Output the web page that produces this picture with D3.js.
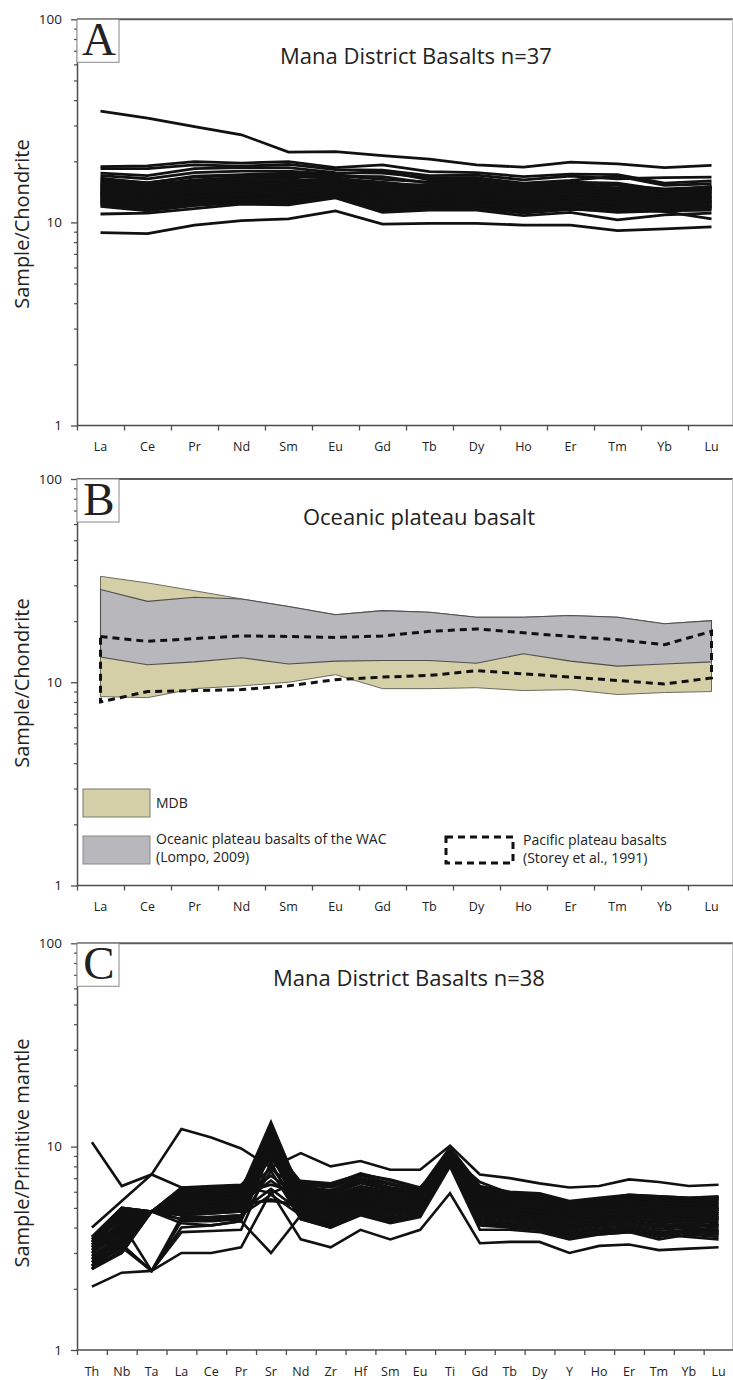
<!DOCTYPE html>
<html>
<head>
<meta charset="utf-8">
<script src="https://cdn.jsdelivr.net/npm/d3@7"></script>
<style>
  html, body { margin: 0; padding: 0; background: #fff; }
  svg { display: block; }
  text { font-family: "Open Sans", "Noto Sans", sans-serif; fill: #222; }
</style>
</head>
<body>
<svg id="chart" width="733" height="1380"></svg>
<script>
// ---- categories ----
const reeElements = ["La","Ce","Pr","Nd","Sm","Eu","Gd","Tb","Dy","Ho","Er","Tm","Yb","Lu"];
const spiderElements = ["Th","Nb","Ta","La","Ce","Pr","Sr","Nd","Zr","Hf","Sm","Eu","Ti","Gd","Tb","Dy","Y","Ho","Er","Tm","Yb","Lu"];

// ---- axis ticks ----
const yMajorTicks = [1, 10, 100];
const yMinorTicks = [2,3,4,5,6,7,8,9,20,30,40,50,60,70,80,90];

// ---- A: chondrite-normalised REE, Mana District basalts (n=37) ----
const manaREE = [
  [35.3,32.6,29.6,27.0,22.2,22.3,21.3,20.5,19.2,18.7,19.8,19.4,18.6,19.1],
  [8.9,8.8,9.7,10.2,10.4,11.4,9.8,9.9,9.9,9.7,9.7,9.1,9.3,9.5],
  [11.0,11.1,11.7,12.3,12.2,13.2,11.2,11.5,11.5,10.8,11.2,10.3,10.9,11.1],
  [18.8,19.0,19.9,19.6,19.9,18.6,19.2,17.8,17.6,16.8,17.3,17.2,15.6,16.0],
  [18.4,18.4,19.2,18.9,19.3,18.2,18.1,17.0,17.1,16.2,16.9,16.4,16.6,16.7],
  [17.5,17.0,18.4,18.6,18.6,17.6,17.5,16.6,16.6,15.6,16.1,16.9,15.2,15.5],
  [16.5,15.6,16.9,17.2,17.5,17.0,16.3,15.8,15.8,15.0,15.6,15.2,14.6,14.9],
  [16.0,15.3,16.2,16.6,16.8,16.6,15.4,15.3,15.3,14.5,15.1,14.7,14.2,14.7],
  [15.5,14.8,15.8,16.0,16.1,16.3,15.0,14.8,14.9,14.1,14.7,14.3,14.0,14.4],
  [15.2,14.4,15.4,15.7,15.9,16.0,14.6,14.5,14.6,13.9,14.4,14.0,13.7,14.1],
  [14.9,14.1,15.0,15.4,15.6,15.8,14.2,14.2,14.3,13.6,14.1,13.8,13.4,13.8],
  [14.6,13.9,14.7,15.1,15.3,15.5,13.9,14.0,14.0,13.3,13.9,13.5,13.2,13.6],
  [14.4,13.6,14.5,14.9,15.0,15.3,13.6,13.7,13.8,13.1,13.6,13.3,13.0,13.4],
  [14.1,13.4,14.2,14.6,14.8,15.0,13.4,13.5,13.5,12.9,13.4,13.0,12.8,13.2],
  [13.9,13.1,14.0,14.4,14.5,14.8,13.1,13.2,13.3,12.7,13.1,12.8,12.6,12.9],
  [13.6,12.9,13.7,14.1,14.3,14.6,12.9,13.0,13.1,12.5,12.9,12.6,12.4,12.7],
  [13.4,12.7,13.5,13.9,14.0,14.4,12.7,12.8,12.8,12.3,12.7,12.3,12.2,12.5],
  [13.2,12.5,13.2,13.6,13.8,14.2,12.5,12.6,12.6,12.1,12.5,12.1,12.0,12.3],
  [12.9,12.3,13.0,13.4,13.5,14.0,12.3,12.4,12.4,11.9,12.3,11.9,11.8,12.1],
  [12.7,12.0,12.7,13.1,13.2,13.8,12.0,12.2,12.2,11.7,12.1,11.7,11.6,11.9],
  [12.4,11.8,12.5,12.9,12.9,13.6,11.8,12.0,12.0,11.5,11.9,11.5,11.5,11.7],
  [12.2,11.5,12.3,12.7,12.6,13.5,11.6,11.8,11.8,11.3,11.7,11.2,11.4,11.5],
  [15.8,15.1,16.0,16.4,16.5,15.4,14.0,13.6,13.8,13.0,13.5,12.9,12.7,13.1],
  [17.0,16.4,17.6,17.9,17.9,17.3,17.9,16.2,16.2,15.3,15.8,15.6,14.4,15.0],
  [12.0,11.4,12.1,12.5,12.4,13.4,11.4,11.8,11.9,11.1,11.6,11.6,11.3,10.4],
  [13.0,12.4,13.3,13.7,13.9,14.8,13.6,13.4,13.4,12.8,13.3,13.2,12.9,13.4],
  [14.0,13.3,14.4,14.8,14.9,16.2,15.4,14.6,14.7,14.0,14.6,14.4,13.6,14.2],
  [16.3,15.7,16.7,17.0,17.1,16.9,16.8,15.6,15.5,14.8,15.3,14.8,14.4,14.7],
  [15.0,14.2,15.2,15.5,15.7,15.1,13.2,13.1,13.0,12.4,12.8,12.4,12.3,12.6],
  [13.7,13.0,13.9,14.3,14.4,15.0,12.2,12.3,12.3,11.8,12.2,11.9,12.1,12.3],
  [12.6,12.1,12.8,13.2,13.3,14.2,11.3,11.7,11.7,11.2,11.6,11.4,11.6,11.9],
  [14.8,14.0,14.9,15.3,15.5,15.9,14.4,14.1,14.1,13.4,14.0,13.9,13.8,14.5],
  [13.3,12.6,13.4,13.8,14.0,14.5,13.0,12.9,12.9,12.4,12.8,12.5,12.5,12.8],
  [14.3,13.7,14.6,15.0,15.2,15.6,14.8,14.3,14.4,13.7,14.2,14.0,13.8,14.8],
  [15.4,14.6,15.6,15.9,16.0,16.4,15.8,15.0,15.1,14.4,15.0,14.6,14.3,15.0],
  [12.5,11.9,12.6,13.0,13.1,14.0,12.6,12.3,12.3,11.6,12.0,11.5,11.8,12.0],
  [13.8,13.2,14.1,14.5,14.6,15.2,14.2,13.8,13.9,13.2,13.8,13.6,13.3,13.9]
];

// ---- B: comparison envelopes ----
const mdbUpper     = [33.2,30.8,28.2,25.7,23.6,21.5,22.5,22.1,20.9,20.9,21.3,20.9,19.4,20.1];
const mdbLower     = [8.5,8.4,9.3,9.6,10.0,10.9,9.3,9.3,9.4,9.1,9.2,8.7,8.9,9.0];
const wacUpper     = [28.6,25.0,26.2,25.7,23.6,21.5,22.5,22.1,20.9,20.9,21.3,20.9,19.4,20.1];
const wacLower     = [13.3,12.2,12.6,13.2,12.3,12.7,12.8,12.8,12.4,13.8,12.7,12.0,12.3,12.6];
const pacificUpper = [16.8,15.9,16.4,16.9,16.8,16.6,16.9,17.8,18.3,17.5,16.8,16.2,15.3,17.8];
const pacificLower = [8.0,9.0,9.1,9.2,9.6,10.3,10.6,10.8,11.4,11.0,10.6,10.2,9.8,10.5];

// ---- C: primitive-mantle-normalised trace elements (n=38) ----
const manaSpider = [
  [4.0,5.4,7.3,12.2,11.1,9.8,7.9,9.3,8.0,8.5,7.7,7.7,10.1,7.3,7.0,6.6,6.3,6.4,6.9,6.7,6.4,6.5],
  [10.5,6.4,7.3,6.3,6.3,6.4,5.9,6.8,6.6,7.3,6.9,6.3,9.0,6.7,5.9,5.8,5.3,5.5,5.8,5.7,5.6,5.6],
  [2.05,2.4,2.45,3.0,3.0,3.2,6.0,3.5,3.2,3.9,3.5,3.9,5.9,3.35,3.4,3.4,3.0,3.25,3.3,3.1,3.15,3.2],
  [3.3,4.1,4.8,4.2,4.1,4.3,3.0,4.6,4.2,4.8,4.4,4.7,8.2,4.2,4.1,4.0,3.6,3.8,3.9,3.6,3.8,3.7],
  [3.5,4.9,4.8,5.9,6.0,6.1,13.2,5.9,5.6,6.2,5.8,5.6,9.6,5.6,5.3,5.2,4.8,4.9,5.1,5.0,4.9,5.0],
  [2.6,3.2,4.8,5.5,5.6,5.8,11.5,5.7,5.3,6.0,5.6,5.5,9.3,5.2,5.0,4.9,4.5,4.7,4.8,4.7,4.6,4.7],
  [2.8,3.6,4.8,5.2,5.3,5.5,10.8,5.4,5.1,5.7,5.3,5.3,9.0,5.0,4.8,4.7,4.3,4.5,4.6,4.5,4.4,4.5],
  [3.0,3.9,4.8,6.2,6.3,6.4,10.2,6.7,6.4,7.2,6.6,6.1,9.5,6.2,5.7,5.6,5.1,5.3,5.5,5.4,5.3,5.4],
  [2.5,4.2,2.45,4.0,4.1,4.3,9.5,4.5,4.1,4.9,4.4,4.6,8.6,4.1,4.0,3.9,3.6,3.7,3.8,3.7,3.6,3.5],
  [3.6,5.0,4.8,5.0,5.0,5.2,9.0,5.2,4.8,5.4,5.0,5.1,9.2,4.9,4.6,4.5,4.1,4.3,4.4,4.2,4.3,4.2],
  [2.7,3.3,2.45,3.8,3.85,3.9,8.4,4.4,4.0,4.6,4.2,4.5,8.0,3.9,3.9,3.8,3.5,3.7,3.8,3.5,3.7,3.6],
  [3.2,4.6,4.8,5.8,5.9,6.0,8.8,6.1,5.8,6.6,6.1,5.9,9.8,5.9,5.6,5.5,5.1,5.2,5.4,5.3,5.2,5.3],
  [2.9,3.4,4.8,4.6,4.7,4.8,12.0,4.9,4.5,5.1,4.8,4.9,9.1,4.6,4.4,4.3,3.9,4.1,4.2,4.0,4.1,4.0],
  [3.4,4.4,4.8,5.4,5.5,5.6,7.2,5.6,5.3,5.9,5.5,5.4,8.8,5.3,5.0,4.9,4.6,4.7,4.9,4.8,4.7,4.8],
  [2.6,3.0,4.8,4.9,5.0,5.1,5.5,5.0,4.6,5.3,4.9,5.0,8.9,4.7,4.5,4.4,4.0,4.2,4.3,4.1,4.2,4.1],
  [3.1,4.0,4.8,6.0,6.1,6.2,11.0,6.4,6.1,6.9,6.3,6.0,9.7,6.0,5.7,5.6,5.2,5.4,5.6,5.5,5.4,5.5],
  [2.8,3.5,4.8,5.1,5.2,5.3,6.8,5.3,5.0,5.6,5.2,5.2,9.0,5.1,4.8,4.7,4.4,4.5,4.7,4.6,4.5,4.6],
  [3.3,4.7,4.8,4.4,4.5,4.6,10.0,4.7,4.3,4.9,4.6,4.8,8.4,4.4,4.2,4.1,3.8,3.9,4.0,3.8,3.9,3.9],
  [2.5,3.1,4.8,5.3,5.4,5.5,9.8,5.5,5.2,5.8,5.4,5.4,9.4,5.4,5.1,5.0,4.6,4.8,5.0,4.9,4.8,4.9],
  [3.0,3.8,4.8,4.7,4.8,4.9,8.0,5.0,4.6,5.2,4.9,5.0,8.7,4.8,4.6,4.5,4.1,4.3,4.4,4.3,4.3,4.3],
  [2.7,3.7,4.8,5.6,5.7,5.9,12.4,5.8,5.5,6.1,5.7,5.6,9.9,5.8,5.5,5.4,5.0,5.1,5.3,5.2,5.1,5.2],
  [3.5,5.0,4.8,6.1,6.2,6.3,9.2,6.5,6.3,7.0,6.5,6.1,9.6,6.3,5.9,5.8,5.3,5.5,5.7,5.6,5.5,5.6],
  [2.9,3.3,2.45,4.5,4.5,4.6,5.8,4.6,4.2,4.8,4.5,4.7,8.5,4.3,4.2,4.1,3.7,3.9,4.0,3.8,3.8,3.8],
  [3.2,4.3,4.8,5.0,5.1,5.2,11.8,5.2,4.9,5.5,5.1,5.2,9.1,5.0,4.8,4.6,4.3,4.4,4.6,4.4,4.5,4.4],
  [2.6,3.4,4.8,5.7,5.8,5.9,6.5,5.9,5.6,6.3,5.9,5.7,9.5,5.7,5.4,5.3,4.9,5.0,5.2,5.1,5.0,5.1],
  [3.4,4.5,4.8,4.8,4.9,5.0,10.6,5.1,4.7,5.3,5.0,5.1,8.9,4.5,4.3,4.2,3.8,4.0,4.1,3.9,4.0,3.9],
  [2.8,3.6,4.8,5.5,5.6,5.7,9.4,5.7,5.4,6.0,5.6,5.5,9.3,5.5,5.2,5.1,4.7,4.9,5.1,5.0,4.9,5.0],
  [3.1,4.1,4.8,6.3,6.4,6.5,8.6,6.6,6.5,7.4,6.8,6.2,9.9,6.4,6.0,5.9,5.4,5.6,5.8,5.7,5.6,5.7],
  [2.6,3.2,2.45,4.3,4.3,4.4,7.6,4.4,4.0,4.7,4.3,4.6,8.3,4.2,4.0,3.9,3.6,3.8,3.9,3.7,3.8,3.7],
  [3.3,4.6,4.8,5.2,5.3,5.4,12.8,5.4,5.1,5.7,5.3,5.3,9.2,5.2,4.9,4.8,4.4,4.6,4.8,4.6,4.6,4.7],
  [2.7,3.5,4.8,4.6,4.7,4.8,6.2,4.8,4.4,5.0,4.7,4.9,8.6,4.6,4.4,4.3,4.0,4.1,4.2,4.1,4.1,4.1],
  [3.0,3.9,4.8,5.9,6.0,6.1,10.4,6.2,5.9,6.7,6.2,5.9,9.6,6.1,5.8,5.7,5.3,5.4,5.6,5.5,5.4,5.6],
  [2.5,3.0,4.8,5.0,5.1,5.2,8.9,5.3,4.9,5.5,5.1,5.2,9.0,4.9,4.7,4.6,4.2,4.4,4.5,4.4,4.4,4.4],
  [3.6,5.0,4.8,5.7,5.8,5.9,7.8,6.0,5.7,6.4,6.0,5.8,9.4,5.9,5.5,5.4,5.0,5.2,5.4,5.3,5.2,5.3],
  [2.9,3.7,4.8,4.4,4.4,4.5,11.2,4.5,4.1,4.7,4.4,4.7,8.8,4.3,4.1,4.0,3.7,3.8,3.9,3.7,3.8,3.8],
  [3.2,4.2,4.8,5.4,5.5,5.6,9.9,5.6,5.3,5.9,5.5,5.4,9.3,5.4,5.1,5.0,4.6,4.8,5.0,4.8,4.8,4.9],
  [2.6,3.3,4.8,5.1,5.1,5.3,5.4,5.2,4.8,5.4,5.0,5.1,8.7,5.0,4.7,4.6,4.3,4.4,4.6,4.5,4.4,4.5],
  [3.4,4.8,4.8,6.0,6.1,6.2,11.6,6.3,6.0,6.8,6.3,6.0,9.8,6.1,5.8,5.7,5.2,5.4,5.6,5.5,5.4,5.5]
];

// ---- layout ----
const svg = d3.select("#chart");
const AXIS_COLOR = "#4d4d4d";

function makePanel(cfg) {
  const g = svg.append("g");
  const n = cfg.elements.length;

  const x = d3.scaleBand().domain(cfg.elements).range([cfg.left, cfg.right]).padding(0);
  const edge = d3.scaleLinear().domain([0, n]).range([cfg.left, cfg.right]);
  const y = d3.scaleLog().domain([1, 100]).range([cfg.bottom, cfg.top]);
  const cx = e => x(e) + x.bandwidth() / 2;

  // frame: top and right borders
  g.append("line")
    .attr("x1", cfg.left).attr("x2", 733)
    .attr("y1", y(100)).attr("y2", y(100))
    .attr("stroke", "#5a5a5a").attr("stroke-width", 2);
  g.append("line")
    .attr("x1", 732.5).attr("x2", 732.5)
    .attr("y1", y(100)).attr("y2", y(1))
    .attr("stroke", "#c4c4c4").attr("stroke-width", 1);

  // series drawn under the axes
  const plot = g.append("g");
  cfg.draw(plot, x, y, cx);

  // y axis: decades + minor ticks
  const yAxis = g.append("g").attr("transform", `translate(${cfg.left},0)`)
    .call(d3.axisLeft(y).tickValues(yMajorTicks).tickFormat(d3.format("d"))
      .tickSize(6).tickPadding(9).tickSizeOuter(0));
  yAxis.select(".domain").attr("stroke", AXIS_COLOR).attr("stroke-width", 1.5);
  yAxis.selectAll(".tick line").attr("stroke", AXIS_COLOR).attr("stroke-width", 1.3);
  yAxis.selectAll(".tick text")
    .style("font-family", "'Open Sans', sans-serif").style("font-size", "13.5px").attr("fill", "#333");

  const yMinor = g.append("g").attr("transform", `translate(${cfg.left},0)`)
    .call(d3.axisLeft(y).tickValues(yMinorTicks).tickFormat("").tickSize(3).tickSizeOuter(0));
  yMinor.select(".domain").remove();
  yMinor.selectAll(".tick line").attr("stroke", AXIS_COLOR).attr("stroke-width", 1.2);

  // x axis: tick marks on band edges
  const xEdges = g.append("g").attr("transform", `translate(0,${y(1)})`)
    .call(d3.axisBottom(edge).tickValues(d3.range(0, n)).tickFormat("").tickSize(5).tickSizeOuter(0));
  xEdges.select(".domain").attr("stroke", AXIS_COLOR).attr("stroke-width", 1.5)
    .attr("d", `M${cfg.left},0H733`);
  xEdges.selectAll(".tick line").attr("stroke", AXIS_COLOR).attr("stroke-width", 1.3);

  // x axis: element names centred in bands
  const xLabels = g.append("g").attr("transform", `translate(0,${y(1)})`)
    .call(d3.axisBottom(x).tickSize(0).tickPadding(17));
  xLabels.select(".domain").remove();
  xLabels.selectAll(".tick text")
    .style("font-family", "'Open Sans', sans-serif").style("font-size", "12.5px").attr("fill", "#333");

  // panel letter box
  g.append("rect")
    .attr("x", cfg.left).attr("y", y(100))
    .attr("width", 42).attr("height", 43)
    .attr("fill", "#fff").attr("stroke", "#8a8a8a").attr("stroke-width", 1);
  g.append("text")
    .attr("x", cfg.left + 22).attr("y", y(100) + 36)
    .attr("text-anchor", "middle")
    .style("font-family", "'Liberation Serif', 'DejaVu Serif', serif")
    .style("font-size", "47px").attr("fill", "#111")
    .text(cfg.letter);

  // title
  g.append("text")
    .attr("x", cfg.titleX).attr("y", y(100) + cfg.titleDy)
    .attr("text-anchor", "middle")
    .style("font-size", "22px").attr("fill", "#222")
    .text(cfg.title);

  // y axis title
  g.append("text")
    .attr("transform", `translate(29,${cfg.yLabelY}) rotate(-90)`)
    .attr("text-anchor", "middle")
    .style("font-size", "20px").attr("fill", "#222")
    .text(cfg.yLabel);

  return { g, x, y, cx };
}

function drawSpaghetti(series, elements, width) {
  return (plot, x, y, cx) => {
    const line = d3.line().x((d, i) => cx(elements[i])).y(d => y(d));
    plot.selectAll("path.sample").data(series).join("path")
      .attr("class", "sample")
      .attr("d", line)
      .attr("fill", "none")
      .attr("stroke", "#111")
      .attr("stroke-width", width)
      .attr("stroke-linejoin", "miter");
  };
}

// Panel A
makePanel({
  elements: reeElements, left: 77, right: 735, top: 19.3, bottom: 425.5,
  letter: "A", title: "Mana District Basalts n=37", titleX: 416, titleDy: 45,
  yLabel: "Sample/Chondrite", yLabelY: 224,
  draw: drawSpaghetti(manaREE, reeElements, 2.8)
});

// Panel B
makePanel({
  elements: reeElements, left: 77, right: 735, top: 479, bottom: 885.5,
  letter: "B", title: "Oceanic plateau basalt", titleX: 419, titleDy: 46,
  yLabel: "Sample/Chondrite", yLabelY: 683,
  draw: (plot, x, y, cx) => {
    const band = (upper, lower) => {
      const pts = upper.map((v, i) => [cx(reeElements[i]), y(v)])
        .concat(lower.map((v, i) => [cx(reeElements[i]), y(v)]).reverse());
      return d3.line()(pts) + "Z";
    };
    plot.append("path").attr("d", band(mdbUpper, mdbLower))
      .attr("fill", "#d4cfa6").attr("stroke", "#6b6b60").attr("stroke-width", 1);
    plot.append("path").attr("d", band(wacUpper, wacLower))
      .attr("fill", "#b8b8bc").attr("stroke", "#4f4f4f").attr("stroke-width", 1.1);
    plot.append("path").attr("d", band(pacificUpper, pacificLower))
      .attr("fill", "none").attr("stroke", "#111").attr("stroke-width", 3)
      .attr("stroke-dasharray", "7,5");

    // legend
    const lg = plot.append("g");
    lg.append("rect").attr("x", 83).attr("y", 789).attr("width", 67).attr("height", 28)
      .attr("fill", "#d4cfa6").attr("stroke", "#7a7a70").attr("stroke-width", 1);
    lg.append("text").attr("x", 156).attr("y", 808).style("font-size", "14px").text("MDB");
    lg.append("rect").attr("x", 83).attr("y", 836).attr("width", 67).attr("height", 28)
      .attr("fill", "#b8b8bc").attr("stroke", "#8a8a8a").attr("stroke-width", 1);
    lg.append("text").attr("x", 156).attr("y", 844).style("font-size", "14px")
      .text("Oceanic plateau basalts of the WAC");
    lg.append("text").attr("x", 156).attr("y", 862).style("font-size", "14px")
      .text("(Lompo, 2009)");
    lg.append("rect").attr("x", 446).attr("y", 837).attr("width", 67).attr("height", 26)
      .attr("fill", "none").attr("stroke", "#111").attr("stroke-width", 3)
      .attr("stroke-dasharray", "7,5");
    lg.append("text").attr("x", 523).attr("y", 845).style("font-size", "14px")
      .text("Pacific plateau basalts");
    lg.append("text").attr("x", 523).attr("y", 863).style("font-size", "14px")
      .text("(Storey et al., 1991)");
  }
});

// Panel C
makePanel({
  elements: spiderElements, left: 77, right: 733.5, top: 943.3, bottom: 1350,
  letter: "C", title: "Mana District Basalts n=38", titleX: 409, titleDy: 43,
  yLabel: "Sample/Primitive mantle", yLabelY: 1153,
  draw: drawSpaghetti(manaSpider, spiderElements, 2.6)
});
</script>
</body>
</html>
